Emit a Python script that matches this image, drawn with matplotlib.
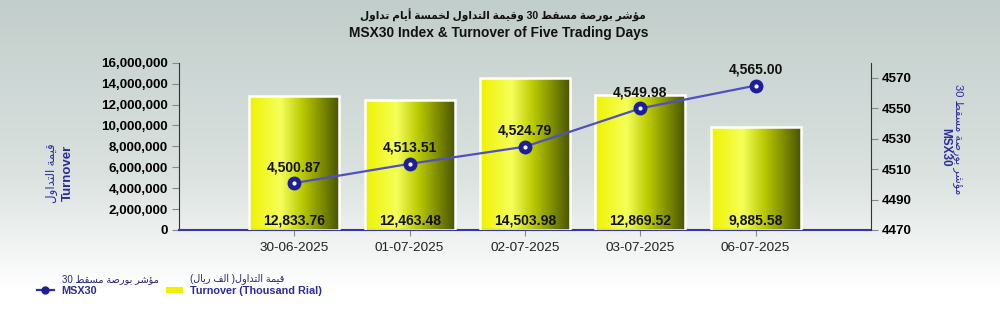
import matplotlib
matplotlib.use("Agg")
import matplotlib.pyplot as plt
import numpy as np
from matplotlib.colors import LinearSegmentedColormap
from matplotlib.lines import Line2D
from matplotlib.patches import Patch
from matplotlib.ticker import FuncFormatter

# data
dates = ["30-06-2025", "01-07-2025", "02-07-2025", "03-07-2025", "06-07-2025"]
turnover_k = [12833.76, 12463.48, 14503.98, 12869.52, 9885.58]  # thousand rial
msx30 = [4500.87, 4513.51, 4524.79, 4549.98, 4565.00]

title_ar = "مؤشر بورصة مسقط 30 وقيمة التداول لخمسة أيام تداول"
title_en = "MSX30 Index & Turnover of Five Trading Days"
left_ar = "قيمة التداول"
right_ar = "مؤشر بورصة مسقط 30"
leg_turn_ar = "قيمة التداول( الف ريال)"
leg_labels_en = ["MSX30", "Turnover (Thousand Rial)"]

# minimal arabic shaping (isolated, final, initial, medial)
FORMS = {
    "ا": (0xFE8D, 0xFE8E, None, None), "أ": (0xFE83, 0xFE84, None, None),
    "ؤ": (0xFE85, 0xFE86, None, None), "د": (0xFEA9, 0xFEAA, None, None),
    "ر": (0xFEAD, 0xFEAE, None, None), "و": (0xFEED, 0xFEEE, None, None),
    "ة": (0xFE93, 0xFE94, None, None),
    "ب": (0xFE8F, 0xFE90, 0xFE91, 0xFE92), "ت": (0xFE95, 0xFE96, 0xFE97, 0xFE98),
    "خ": (0xFEA5, 0xFEA6, 0xFEA7, 0xFEA8), "س": (0xFEB1, 0xFEB2, 0xFEB3, 0xFEB4),
    "ش": (0xFEB5, 0xFEB6, 0xFEB7, 0xFEB8), "ص": (0xFEB9, 0xFEBA, 0xFEBB, 0xFEBC),
    "ط": (0xFEC1, 0xFEC2, 0xFEC3, 0xFEC4), "ف": (0xFED1, 0xFED2, 0xFED3, 0xFED4),
    "ق": (0xFED5, 0xFED6, 0xFED7, 0xFED8), "ل": (0xFEDD, 0xFEDE, 0xFEDF, 0xFEE0),
    "م": (0xFEE1, 0xFEE2, 0xFEE3, 0xFEE4), "ي": (0xFEF1, 0xFEF2, 0xFEF3, 0xFEF4),
}
MIRROR = {"(": ")", ")": "("}


def shape(text):
    out = []
    n = len(text)
    for i, ch in enumerate(text):
        if ch not in FORMS:
            out.append(ch)
            continue
        prev = text[i - 1] if i > 0 else ""
        nxt = text[i + 1] if i < n - 1 else ""
        f = FORMS[ch]
        join_prev = prev in FORMS and FORMS[prev][2] is not None
        join_next = nxt in FORMS and f[2] is not None
        if join_prev and join_next:
            code = f[3]
        elif join_prev:
            code = f[1]
        elif join_next:
            code = f[2]
        else:
            code = f[0]
        out.append(chr(code))
    s = "".join(out)
    # visual order: reverse, keep digit runs left-to-right
    runs, cur, cur_ltr = [], "", None
    for ch in s:
        ltr = ch.isdigit()
        if cur and ltr != cur_ltr:
            runs.append((cur, cur_ltr))
            cur = ""
        cur += ch
        cur_ltr = ltr
    if cur:
        runs.append((cur, cur_ltr))
    vis = []
    for r, ltr in reversed(runs):
        vis.append(r if ltr else "".join(MIRROR.get(c, c) for c in reversed(r)))
    return "".join(vis)


FAM = ["Liberation Sans", "DejaVu Sans"]
plt.rcParams["font.family"] = FAM
BLUE_TXT = "#2b2ba0"

fig = plt.figure(figsize=(10, 3.21), dpi=100)

# background gradient
bg = fig.add_axes([0, 0, 1, 1], zorder=-10)
grad = np.linspace(0, 1, 256).reshape(-1, 1)
bg_cmap = LinearSegmentedColormap.from_list(
    "bg", [(0, "#c2cecb"), (0.55, "#dbe2e0"), (0.9, "#ffffff"), (1, "#ffffff")])
bg.imshow(grad, aspect="auto", cmap=bg_cmap, extent=[0, 1, 0, 1], origin="upper")
bg.axis("off")

ax = fig.add_axes([0.179, 0.2835, 0.692, 0.521])
ax.patch.set_alpha(0)
x = np.arange(len(dates))
vals = np.array(turnover_k) * 1000
bars = ax.bar(x, vals, width=0.78, color="none", edgecolor="white", linewidth=1.8, zorder=3)

bar_cmap = LinearSegmentedColormap.from_list(
    "bar", [(0, "#eef200"), (0.35, "#f6ff5a"), (0.6, "#b8c800"), (1, "#4a5600")])
hgrad = np.linspace(0, 1, 256).reshape(1, -1)
for b in bars:
    x0, w, h = b.get_x(), b.get_width(), b.get_height()
    im = ax.imshow(hgrad, cmap=bar_cmap, aspect="auto", extent=[x0, x0 + w, 0, h], zorder=2)
    im.set_clip_path(b)

for xi, v in zip(x, turnover_k):
    ax.text(xi, 200000, f"{v:,.2f}", ha="center", va="bottom", fontsize=10,
            fontweight="bold", color="#111111", zorder=5)

ax.set_xlim(-1, len(dates))
ax.set_ylim(0, 16000000)
ax.set_yticks(np.arange(0, 16000001, 2000000))
ax.yaxis.set_major_formatter(FuncFormatter(lambda v, p: f"{v:,.0f}"))
ax.set_xticks(x)
ax.set_xticklabels(dates, fontsize=9.7, color="#222222")
for t in ax.get_yticklabels():
    t.set_fontweight("bold")
    t.set_fontsize(9.6)
ax.tick_params(axis="y", length=5, color="#888888", pad=3)
ax.tick_params(axis="x", length=4, color="#888888", pad=5)
ax.spines["top"].set_visible(False)
ax.spines["right"].set_visible(False)
ax.spines["left"].set_color("#333333")
ax.spines["bottom"].set_color("#3535b0")
ax.spines["bottom"].set_linewidth(1.5)

ax2 = ax.twinx()
ax2.patch.set_alpha(0)
ax2.plot(x, msx30, color="#4f4fc8", lw=1.6, marker="o", ms=9,
         markerfacecolor="#1e1e9a", markeredgecolor="#1e1e9a", zorder=6)
ax2.plot(x, msx30, ls="none", marker="o", ms=2, color="white", zorder=7)
for xi, v in zip(x, msx30):
    ax2.annotate(f"{v:,.2f}", (xi, v), xytext=(0, 11.5), textcoords="offset points",
                 ha="center", va="center", fontsize=10, fontweight="bold", color="#111111")
ax2.set_ylim(4470, 4580)
ax2.set_yticks(np.arange(4470, 4571, 20))
for t in ax2.get_yticklabels():
    t.set_fontweight("bold")
    t.set_fontsize(9.6)
ax2.tick_params(axis="y", length=5, color="#888888", pad=3)
for s in ["top", "left", "bottom"]:
    ax2.spines[s].set_visible(False)
ax2.spines["right"].set_color("#333333")

# axis titles
fig.text(0.052, 0.46, shape(left_ar), rotation=90, ha="center", va="center",
         fontsize=8.5, color=BLUE_TXT)
fig.text(0.068, 0.46, "Turnover", rotation=90, ha="center", va="center",
         fontsize=9.5, fontweight="bold", color=BLUE_TXT)
fig.text(0.958, 0.565, shape(right_ar), rotation=-90, ha="center", va="center",
         fontsize=8, color=BLUE_TXT)
fig.text(0.945, 0.54, "MSX30", rotation=-90, ha="center", va="center",
         fontsize=8.5, fontweight="bold", color=BLUE_TXT)

# titles
fig.text(0.503, 0.953, shape(title_ar), ha="center", va="center", fontsize=7.6,
         fontweight="bold", color="#111111")
fig.text(0.499, 0.897, title_en, ha="center", va="center", fontsize=9.9,
         fontweight="bold", color="#111111")

# legend: english labels from the legend, arabic lines placed above them
handles = [
    Line2D([0], [0], color="#2e2eb0", lw=1.6, marker="o", ms=5,
           markerfacecolor="#1e1e9a", markeredgecolor="#1e1e9a"),
    Patch(facecolor="#eef200", edgecolor="none"),
]
leg = fig.legend(handles, leg_labels_en, loc="center left", bbox_to_anchor=(0.027, 0.095),
                 ncol=2, frameon=False, fontsize=7.8, handlelength=1.6, handleheight=0.5,
                 columnspacing=6.3, handletextpad=0.7)
for t in leg.get_texts():
    t.set_color(BLUE_TXT)
    t.set_fontweight("bold")

fig.canvas.draw()
inv = fig.transFigure.inverted()
for t, ar in zip(leg.get_texts(), [right_ar, leg_turn_ar]):
    bb = t.get_window_extent()
    x0, y1 = inv.transform((bb.x0, bb.y1))
    fig.text(x0, y1 + 0.004, shape(ar), ha="left", va="bottom", fontsize=7,
             color="#25257a")

fig.savefig("out.png", dpi=100)
